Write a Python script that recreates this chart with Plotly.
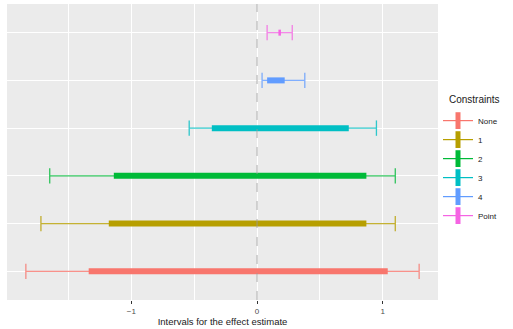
import plotly.graph_objects as go

# constraint levels, bottom to top
constraints = ["None", "1", "2", "3", "4", "Point"]
colors = ["#F8766D", "#B79F00", "#00BA38", "#00BFC4", "#619CFF", "#F564E3"]

# outer (thin) interval
outer_lo = [-1.84, -1.72, -1.65, -0.54, 0.04, 0.08]
outer_hi = [1.29, 1.10, 1.10, 0.95, 0.38, 0.28]
# inner (thick) interval
inner_lo = [-1.34, -1.18, -1.14, -0.36, 0.08, 0.17]
inner_hi = [1.04, 0.87, 0.87, 0.73, 0.22, 0.19]

fig = go.Figure()

for i, name in enumerate(constraints):
    c = colors[i]
    # thin outer range with end caps
    fig.add_trace(go.Scatter(
        x=[outer_lo[i], outer_hi[i]], y=[i, i],
        mode="lines+markers",
        line=dict(color=c, width=1.2),
        marker=dict(symbol="line-ns", size=11, line=dict(color=c, width=1.3)),
        opacity=0.8, showlegend=False, hoverinfo="skip",
    ))
    # thick inner range
    fig.add_trace(go.Scatter(
        x=[inner_lo[i], inner_hi[i]], y=[i, i],
        mode="lines",
        line=dict(color=c, width=6),
        showlegend=False, hoverinfo="skip",
    ))
    # legend key
    fig.add_trace(go.Scatter(
        x=[None], y=[None], name=name,
        mode="lines+markers",
        line=dict(color=c, width=1.2),
        marker=dict(symbol="line-ns", size=12, line=dict(color=c, width=6)),
    ))

fig.add_vline(x=0, line=dict(color="#999999", width=0.8, dash="dash"))

fig.add_annotation(
    text="Constraints", xref="paper", yref="paper",
    x=1.022, y=0.678, xanchor="left", yanchor="middle",
    showarrow=False, font=dict(size=10, color="#1a1a1a"),
)

fig.update_layout(
    width=513, height=329,
    margin=dict(l=7, r=75, t=4, b=29),
    paper_bgcolor="white",
    plot_bgcolor="#EBEBEB",
    font=dict(family="Liberation Sans, Arial, sans-serif", size=9, color="#1a1a1a"),
    legend=dict(
        x=1.0, y=0.655, xanchor="left", yanchor="top",
        font=dict(size=8), tracegroupgap=0, itemwidth=30,
    ),
    xaxis=dict(
        range=[-1.99, 1.44],
        tickvals=[-1, 0, 1], ticktext=["\u22121", "0", "1"],
        showgrid=True, gridcolor="white", gridwidth=1.1,
        minor=dict(tickvals=[-1.5, -0.5, 0.5], showgrid=True, gridcolor="white", gridwidth=0.6),
        ticks="outside", ticklen=3, tickcolor="#333333",
        tickfont=dict(size=8, color="#4d4d4d"),
        zeroline=False,
        title=dict(text="Intervals for the effect estimate", font=dict(size=9.5), standoff=3),
    ),
    yaxis=dict(
        range=[-0.6, 5.6],
        tickvals=list(range(len(constraints))),
        showticklabels=False,
        showgrid=True, gridcolor="white", gridwidth=1.1,
        zeroline=False, ticks="",
    ),
)

fig.write_html(
    "out.html",
    config={"displayModeBar": False},
    post_script="document.body.style.margin='0';",
)
